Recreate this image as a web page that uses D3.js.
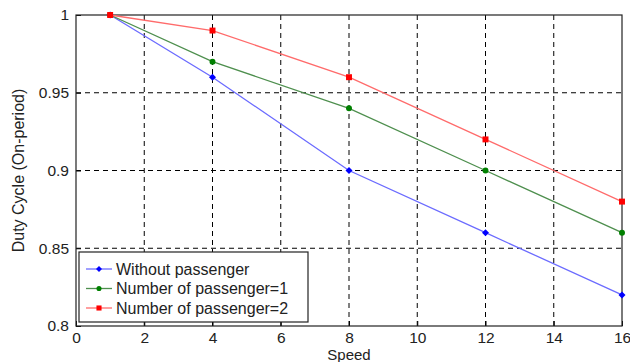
<!DOCTYPE html>
<html>
<head>
<meta charset="utf-8">
<script src="https://cdn.jsdelivr.net/npm/d3@7"></script>
<style>
  body { margin: 0; background: #fff; }
  text { font-family: Arial, "Liberation Sans", sans-serif; fill: #222; }
</style>
</head>
<body>
<svg id="chart"></svg>
<script>
const speeds = [1, 4, 8, 12, 16];
const withoutPassenger = [1, 0.96, 0.90, 0.86, 0.82];
const onePassenger = [1, 0.97, 0.94, 0.90, 0.86];
const twoPassengers = [1, 0.99, 0.96, 0.92, 0.88];
const xTicks = [0, 2, 4, 6, 8, 10, 12, 14, 16];
const yTicks = [0.8, 0.85, 0.9, 0.95, 1];
const yTickLabels = ["0.8", "0.85", "0.9", "0.95", "1"];

const series = [
  { name: "Without passenger", values: withoutPassenger, line: "#6b6bff", mark: "#0000ff", shape: "diamond" },
  { name: "Number of passenger=1", values: onePassenger, line: "#4e8f4e", mark: "#008000", shape: "circle" },
  { name: "Number of passenger=2", values: twoPassengers, line: "#ff6b6b", mark: "#ff0000", shape: "square" }
];

const width = 630, height = 362;
const margin = { top: 15, right: 8, bottom: 36, left: 76 };

const svg = d3.select("#chart").attr("width", width).attr("height", height);

const x = d3.scaleLinear().domain([0, 16]).range([margin.left, width - margin.right]);
const y = d3.scaleLinear().domain([0.8, 1]).range([height - margin.bottom, margin.top]);

// grid
const grid = svg.append("g").attr("stroke", "#000").attr("stroke-dasharray", "5,4").attr("stroke-width", 1);
grid.selectAll("line.v")
  .data(xTicks.filter(d => d > 0 && d < 16))
  .join("line")
  .attr("x1", d => x(d)).attr("x2", d => x(d))
  .attr("y1", y(0.8)).attr("y2", y(1));
grid.selectAll("line.h")
  .data(yTicks.filter(d => d > 0.8 && d < 1))
  .join("line")
  .attr("x1", x(0)).attr("x2", x(16))
  .attr("y1", d => y(d)).attr("y2", d => y(d));

// axes (ticks pointing inward, MATLAB style)
svg.append("g")
  .attr("transform", `translate(0,${y(0.8)})`)
  .call(d3.axisBottom(x).tickValues(xTicks).tickSize(-5).tickPadding(6).tickFormat(d3.format("d")))
  .call(g => g.select(".domain").remove())
  .call(g => g.selectAll("text").attr("font-size", 15.5).attr("fill", "#222"));

svg.append("g")
  .attr("transform", `translate(${x(0)},0)`)
  .call(d3.axisLeft(y).tickValues(yTicks).tickSize(-5).tickPadding(7).tickFormat((d, i) => yTickLabels[i]))
  .call(g => g.select(".domain").remove())
  .call(g => g.selectAll("text").attr("font-size", 15.5).attr("fill", "#222"));

// frame
svg.append("rect")
  .attr("x", x(0)).attr("y", y(1))
  .attr("width", x(16) - x(0)).attr("height", y(0.8) - y(1))
  .attr("fill", "none").attr("stroke", "#222").attr("stroke-width", 1.2);

// lines
const line = d3.line().x((d, i) => x(speeds[i])).y(d => y(d));

function drawMarker(g, shape, color, cx, cy, s) {
  if (shape === "diamond") {
    g.append("path").attr("d", `M${cx},${cy - s}L${cx + s},${cy}L${cx},${cy + s}L${cx - s},${cy}Z`).attr("fill", color);
  } else if (shape === "circle") {
    g.append("circle").attr("cx", cx).attr("cy", cy).attr("r", s * 0.85).attr("fill", color);
  } else {
    g.append("rect").attr("x", cx - s * 0.85).attr("y", cy - s * 0.85).attr("width", s * 1.7).attr("height", s * 1.7).attr("fill", color);
  }
}

series.forEach(s => {
  svg.append("path")
    .datum(s.values)
    .attr("d", line)
    .attr("fill", "none")
    .attr("stroke", s.line)
    .attr("stroke-width", 1.3);
  const mg = svg.append("g");
  s.values.forEach((v, i) => drawMarker(mg, s.shape, s.mark, x(speeds[i]), y(v), 3.5));
});

// axis labels
svg.append("text")
  .attr("x", (x(0) + x(16)) / 2).attr("y", 360)
  .attr("text-anchor", "middle").attr("font-size", 15)
  .text("Speed");

svg.append("text")
  .attr("transform", `translate(24,${(y(0.8) + y(1)) / 2}) rotate(-90)`)
  .attr("text-anchor", "middle").attr("font-size", 16)
  .text("Duty Cycle (On-period)");

// legend
const lg = svg.append("g").attr("transform", "translate(79,252)");
lg.append("rect").attr("width", 229).attr("height", 70)
  .attr("fill", "#fff").attr("stroke", "#222").attr("stroke-width", 1.2);
series.forEach((s, i) => {
  const ly = 17 + i * 19.5;
  lg.append("line").attr("x1", 7).attr("x2", 33).attr("y1", ly).attr("y2", ly)
    .attr("stroke", s.line).attr("stroke-width", 1.3);
  drawMarker(lg, s.shape, s.mark, 20, ly, 3);
  lg.append("text").attr("x", 37).attr("y", ly + 5.5).attr("font-size", 16).text(s.name);
});
</script>
</body>
</html>
